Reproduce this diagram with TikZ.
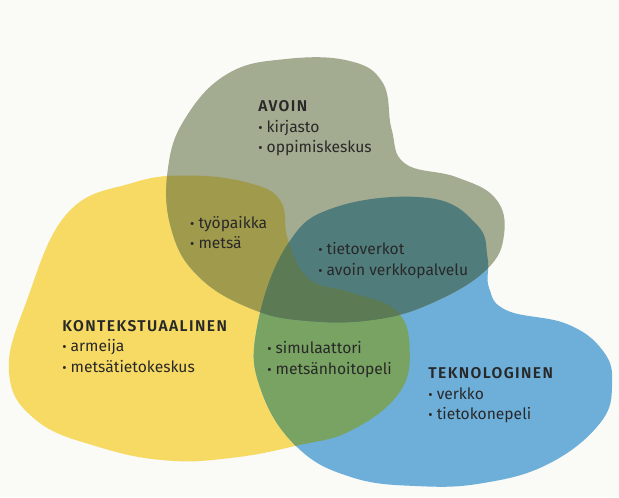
\documentclass[tikz,border=0pt]{standalone}
\usepackage{fontspec}
\setmainfont{Fira Sans}
\newfontfamily\headfont[LetterSpace=9.0]{Fira Sans SemiBold}
\usepackage{xcolor}
\usepackage{tikz}

\definecolor{paper}{RGB}{250,250,247}
\definecolor{textdark}{RGB}{40,40,40}
\definecolor{avoinolive}{RGB}{163,171,144}
\definecolor{kontyellow}{RGB}{247,218,100}
\definecolor{teknblue}{RGB}{110,175,218}
\definecolor{ochre}{RGB}{160,154,76}
\definecolor{tealgrey}{RGB}{80,124,124}
\definecolor{leafgreen}{RGB}{120,163,98}
\definecolor{darkmoss}{RGB}{92,123,84}

% outlines of the three sets
\newcommand{\avoinblob}{plot[smooth cycle, tension=0.7] coordinates {
    (5.6,-5.6) (6.2,-3.9) (7.6,-2.45) (9.5,-1.97) (11.6,-2.02) (12.75,-2.75)
    (13.05,-4.3) (13.5,-5.45) (15.2,-5.9) (16.5,-6.6) (16.8,-7.8) (16.2,-9.0)
    (14.4,-10.1) (12.5,-10.65) (10.3,-10.7) (8.4,-10.3) (6.6,-9.2) (5.7,-7.6)}}
\newcommand{\kontblob}{plot[smooth cycle, tension=0.7] coordinates {
    (0.3,-12.4) (0.9,-10.0) (2.25,-7.1) (4.4,-6.1) (6.3,-5.85) (8.3,-6.1)
    (9.35,-6.7) (9.6,-8.0) (10.3,-9.3) (11.7,-9.75) (13.2,-10.35) (13.65,-11.6)
    (13.3,-13.1) (11.7,-14.35) (9.9,-14.85) (7.8,-15.25) (5.6,-15.35)
    (3.3,-14.9) (1.2,-14.0)}}
\newcommand{\teknblob}{plot[smooth cycle, tension=0.7] coordinates {
    (9.55,-8.2) (11.2,-6.9) (14.3,-6.6) (15.9,-7.5) (16.25,-8.6) (16.3,-9.6)
    (16.9,-10.35) (18.9,-10.8) (20.1,-11.7) (20.4,-12.8) (20.0,-14.1)
    (18.3,-15.45) (16.1,-16.1) (13.9,-16.2) (11.7,-15.9) (9.9,-14.9)
    (8.7,-13.0) (8.55,-11.0)}}

\newcommand{\blt}{{\fontsize{12.5}{12}\selectfont\textbullet}\ }

\begin{document}
\begin{tikzpicture}[
    every node/.style={font=\fontsize{14.8}{19.5}\selectfont},
    region/.style={fill=#1},
    itemlist/.style={
        anchor=north west,
        align=left,
        inner sep=0pt,
        text=textdark
    }
]

    % Paper
    \fill[paper] (0,0) rectangle (20.63,-16.57);

    % The three sets
    \fill[region=kontyellow] \kontblob;
    \fill[region=teknblue] \teknblob;
    \fill[region=avoinolive] \avoinblob;

    % Overlaps with the contextual set
    \begin{scope}
        \clip \kontblob;
        \fill[region=ochre] \avoinblob;
        \fill[region=leafgreen] \teknblob;
    \end{scope}

    % Open and technological, then all three
    \begin{scope}
        \clip \avoinblob;
        \fill[region=tealgrey] \teknblob;
        \clip \teknblob;
        \fill[region=darkmoss] \kontblob;
    \end{scope}

    % Set labels
    \node[itemlist] (avoin) at (8.6,-3.34) {
        {\headfont AVOIN}\\
        \blt kirjasto\\
        \blt oppimiskeskus
    };
    \node[itemlist] (kont) at (2.07,-10.66) {
        {\headfont KONTEKSTUAALINEN}\\
        \blt armeija\\
        \blt metsätietokeskus
    };
    \node[itemlist] (tekn) at (14.27,-12.24) {
        {\headfont TEKNOLOGINEN}\\
        \blt verkko\\
        \blt tietokonepeli
    };

    % Overlap labels
    \node[itemlist] (avoinkont) at (6.33,-7.2) {
        \blt työpaikka\\
        \blt metsä
    };
    \node[itemlist] (avointekn) at (10.6,-8.07) {
        \blt tietoverkot\\
        \blt avoin verkkopalvelu
    };
    \node[itemlist] (konttekn) at (8.9,-11.37) {
        \blt simulaattori\\
        \blt metsänhoitopeli
    };

\end{tikzpicture}
\end{document}
